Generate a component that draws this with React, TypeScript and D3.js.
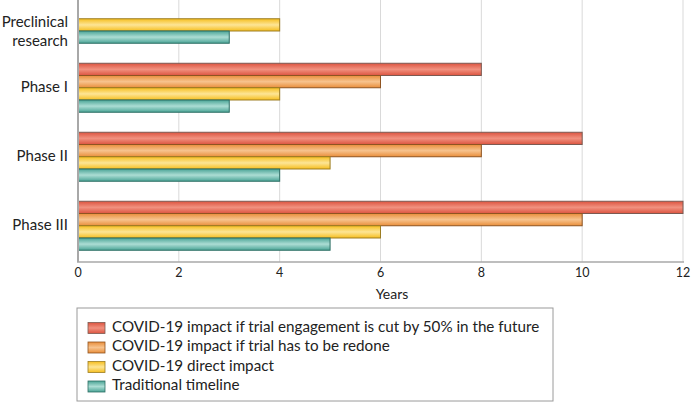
import React from "react";
import * as d3 from "d3";

const categories = ["Preclinical research", "Phase I", "Phase II", "Phase III"];
const seriesKeys = ["cut50", "redone", "direct", "traditional"];
const seriesLabels = [
  "COVID-19 impact if trial engagement is cut by 50% in the future",
  "COVID-19 impact if trial has to be redone",
  "COVID-19 direct impact",
  "Traditional timeline",
];
const cut50Values: (number | null)[] = [null, 8, 10, 12];
const redoneValues: (number | null)[] = [null, 6, 8, 10];
const directValues: (number | null)[] = [4, 4, 5, 6];
const traditionalValues: (number | null)[] = [3, 3, 4, 5];
const xTicks = [0, 2, 4, 6, 8, 10, 12];
const axisTitle = "Years";

const seriesValues = [cut50Values, redoneValues, directValues, traditionalValues];
const edgeColors = ["#dc5440", "#e98e3a", "#f6be1e", "#4aa496"];
const midColors = ["#f1917f", "#f7c38e", "#fde596", "#acddd4"];
const strokeColors = ["#7c5a52", "#8f5421", "#9c7d22", "#2d6e64"];

const W = 696;
const H = 403;
const font = "Lato, 'Open Sans', sans-serif";

export default function App() {
  const x = d3.scaleLinear().domain([0, 12]).range([78, 683]);
  const y = d3
    .scaleBand<string>()
    .domain(categories)
    .range([-15.75, 260.25])
    .paddingInner(0.29)
    .paddingOuter(0.145);
  const sub = d3.scaleBand<string>().domain(seriesKeys).range([0, y.bandwidth()]);
  const axisY = 262;

  const label = (c: string) =>
    c === "Preclinical research" ? ["Preclinical", "research"] : [c];

  return (
    <svg
      width={W}
      height={H}
      style={{ position: "absolute", left: 0, top: 0, background: "#fff" }}
      fontFamily={font}
    >
      <defs>
        {seriesKeys.map((k, i) => (
          <linearGradient key={k} id={`g-${k}`} x1="0" y1="0" x2="0" y2="1">
            <stop offset="0%" stopColor={edgeColors[i]} />
            <stop offset="50%" stopColor={midColors[i]} />
            <stop offset="100%" stopColor={edgeColors[i]} />
          </linearGradient>
        ))}
      </defs>
      {xTicks.filter((t) => t > 0).map((t) => (
        <line key={t} x1={x(t)} x2={x(t)} y1={0} y2={axisY} stroke="#d9d9d9" strokeWidth={1} />
      ))}
      {categories.map((c, ci) =>
        seriesKeys.map((k, si) => {
          const v = seriesValues[si][ci];
          if (v == null) return null;
          const y0 = (y(c) as number) + (sub(k) as number);
          return (
            <rect
              key={c + k}
              x={x(0)}
              y={y0}
              width={x(v) - x(0)}
              height={sub.bandwidth()}
              fill={`url(#g-${k})`}
              stroke={strokeColors[si]}
              strokeWidth={1}
            />
          );
        })
      )}
      <line x1={x(0)} x2={x(0)} y1={0} y2={axisY} stroke="#a8a8a8" strokeWidth={2} />
      <line x1={x(0) - 1} x2={x(12) + 1} y1={axisY} y2={axisY} stroke="#a8a8a8" strokeWidth={1.5} />
      {xTicks.map((t) => (
        <text key={t} x={x(t)} y={274} textAnchor="middle" dominantBaseline="middle" fontSize={12.5} fill="#222">
          {t}
        </text>
      ))}
      <text x={392} y={295} textAnchor="middle" dominantBaseline="middle" fontSize={14} fill="#222">
        {axisTitle}
      </text>
      {categories.map((c) => {
        const lines = label(c);
        const cyc =
          lines.length > 1
            ? (y(c) as number) + y.bandwidth() * 0.5 + 13.5
            : (y(c) as number) + y.bandwidth() / 2;
        return lines.map((l, li) => (
          <text
            key={c + li}
            x={68}
            y={lines.length > 1 ? cyc - 9.5 + li * 19 : cyc}
            textAnchor="end"
            dominantBaseline="middle"
            fontSize={15}
            fill="#222"
          >
            {l}
          </text>
        ));
      })}
      <rect x={77} y={308} width={476} height={93} fill="#fff" stroke="#9a9a9a" strokeWidth={1} />
      {seriesKeys.map((k, i) => (
        <g key={k} transform={`translate(0, ${328 + i * 19.5})`}>
          <rect x={88} y={-5.5} width={17} height={11} fill={`url(#g-${k})`} stroke={strokeColors[i]} strokeWidth={0.8} />
          <text x={112} y={0} dominantBaseline="middle" fontSize={15.2} fill="#222">
            {seriesLabels[i]}
          </text>
        </g>
      ))}
    </svg>
  );
}
